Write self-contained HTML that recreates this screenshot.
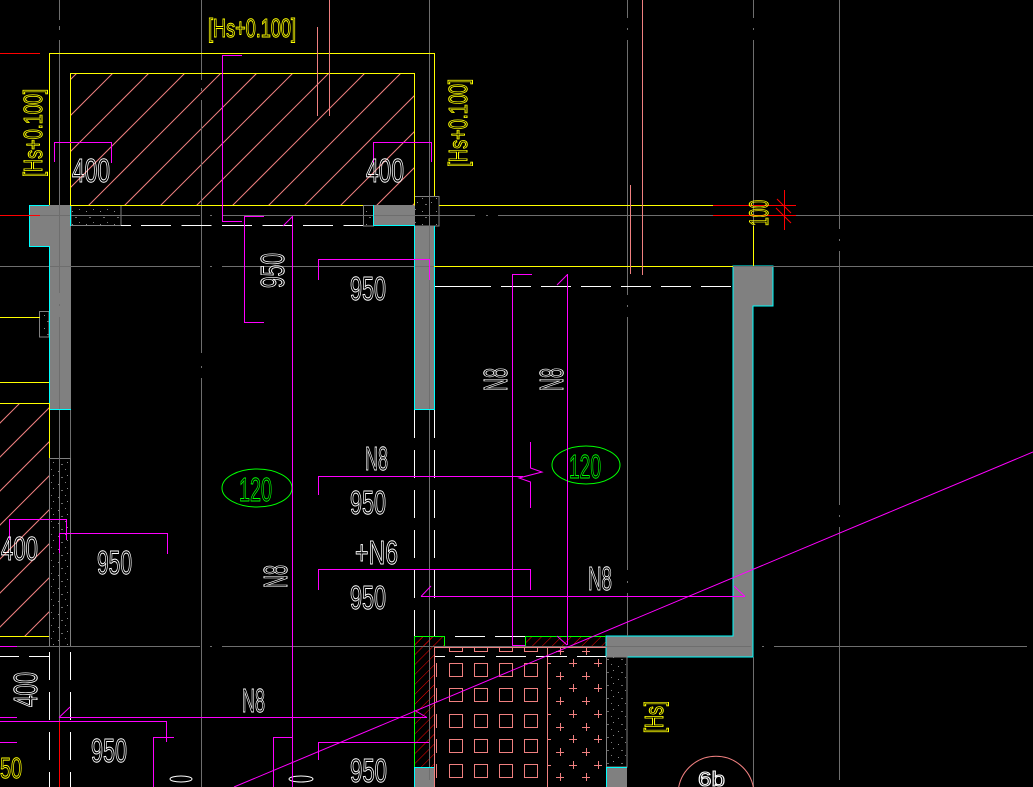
<!DOCTYPE html>
<html>
<head>
<meta charset="utf-8">
<style>
html,body{margin:0;padding:0;background:#000;overflow:hidden;width:1033px;height:787px;}
#wrap{width:1033px;height:787px;overflow:hidden;position:relative;}
svg{display:block;}
text{font-family:'Liberation Sans',sans-serif;font-weight:normal;}
.tw{fill:none;stroke:#ffffff;stroke-width:1;}
.ty{fill:none;stroke:#ffff00;stroke-width:1;}
.tg{fill:none;stroke:#00ff00;stroke-width:1;}
</style>
</head>
<body>
<div id="wrap">
<svg width="1033" height="787" viewBox="0 0 1033 787" xmlns="http://www.w3.org/2000/svg">
<defs>
<pattern id="spk" width="14" height="13" patternUnits="userSpaceOnUse">
<rect x="2" y="3" width="1" height="1" fill="#8a8a8a"/>
<rect x="9" y="1" width="1" height="1" fill="#7a7a7a"/>
<rect x="11" y="7" width="1" height="1" fill="#8a8a8a"/>
<rect x="5" y="9" width="2" height="1" fill="#6a6a6a"/>
</pattern>
<pattern id="rh" width="7" height="7" patternUnits="userSpaceOnUse" patternTransform="rotate(45)">
<line x1="0" y1="0" x2="0" y2="7" stroke="#ff0000" stroke-width="1"/>
</pattern>
<clipPath id="c1"><rect x="70.5" y="73.5" width="344" height="132"/></clipPath>
<clipPath id="c2"><rect x="0" y="403.5" width="49" height="233"/></clipPath>
</defs>

<rect x="0" y="0" width="1033" height="787" fill="#000"/>

<!-- hatch upper -->
<g clip-path="url(#c1)" stroke="#f08080" stroke-width="1">
<line x1="-56" y1="206" x2="77" y2="73"/>
<line x1="-20" y1="206" x2="113" y2="73"/>
<line x1="16" y1="206" x2="149" y2="73"/>
<line x1="52" y1="206" x2="185" y2="73"/>
<line x1="88" y1="206" x2="221" y2="73"/>
<line x1="124" y1="206" x2="257" y2="73"/>
<line x1="160" y1="206" x2="293" y2="73"/>
<line x1="196" y1="206" x2="329" y2="73"/>
<line x1="232" y1="206" x2="365" y2="73"/>
<line x1="268" y1="206" x2="401" y2="73"/>
<line x1="304" y1="206" x2="437" y2="73"/>
<line x1="340" y1="206" x2="473" y2="73"/>
<line x1="376" y1="206" x2="509" y2="73"/>
<line x1="412" y1="206" x2="545" y2="73"/>
</g>
<!-- hatch left -->
<g clip-path="url(#c2)" stroke="#f08080" stroke-width="1">
<line x1="-214" y1="637" x2="20" y2="403"/>
<line x1="-180" y1="637" x2="54" y2="403"/>
<line x1="-146" y1="637" x2="88" y2="403"/>
<line x1="-112" y1="637" x2="122" y2="403"/>
<line x1="-78" y1="637" x2="156" y2="403"/>
<line x1="-44" y1="637" x2="190" y2="403"/>
<line x1="-10" y1="637" x2="224" y2="403"/>
<line x1="24" y1="637" x2="258" y2="403"/>
<line x1="58" y1="637" x2="292" y2="403"/>
</g>

<!-- red hatch -->
<rect x="415" y="637" width="19" height="130" fill="url(#rh)"/>
<rect x="415" y="637" width="29" height="9" fill="url(#rh)"/>
<rect x="526" y="637" width="80" height="9" fill="url(#rh)"/>

<!-- walls -->
<path d="M29,205H71V409H49V246H29Z" fill="#808080"/>
<path d="M373,205H414V226H373Z" fill="#808080"/>
<path d="M414,226H434V409H414Z" fill="#808080"/>
<path d="M733,266H773V306H753V657H606V636H733Z" fill="#808080" stroke="#00ffff" stroke-width="1"/>
<rect x="414" y="767" width="20" height="20" fill="#808080"/>
<rect x="606" y="767" width="21" height="20" fill="#808080"/>

<!-- speckle blocks -->
<g fill="url(#spk)" stroke="#808080" stroke-width="1">
<rect x="71" y="205.5" width="50" height="20"/>
<rect x="363.5" y="205.5" width="10" height="20.5"/>
<rect x="414.5" y="196.5" width="24.5" height="29.5"/>
<rect x="39.5" y="311.5" width="9.5" height="25.5"/>
<rect x="49.5" y="458.5" width="21" height="188"/>
<rect x="606.5" y="657" width="20.5" height="110"/>
</g>

<!-- axis lines -->
<path fill="none" stroke="#6e6e6e" stroke-width="1" d="
M0,215.5H200 M210,215.5H212 M222,215.5H475 M486,215.5H488 M498,215.5H1033
M0,266.5H200 M210,266.5H212 M222,266.5H1033
M0,646.5H200 M210,646.5H212 M222,646.5H751 M762,646.5H764 M774,646.5H1027
M59.5,0V20 M59.5,26V30 M59.5,40V293 M59.5,304V306 M59.5,317V787
M201.5,0V80 M201.5,88V91 M201.5,100V353 M201.5,366V368 M201.5,378V787
M429.5,0V780
M627.5,0V18 M627.5,28V30 M627.5,40V295 M627.5,305V307 M627.5,317V570 M627.5,581V583 M627.5,593V636
M753.5,0V18 M753.5,28V30 M753.5,40V226 M753.5,657V787
M839.5,0V229 M839.5,239V241 M839.5,251V505 M839.5,515V517 M839.5,527V780
M70.5,409V458
"/>

<!-- cyan outlines -->
<path fill="none" stroke="#00ffff" stroke-width="1" d="
M29,205.5H49 M29.5,205V246.5H49.5V409.5H71 M70.5,205V226
M373.5,205V225.5H414.5V409.5H434.5V226
M414.5,787V767.5H434 M606.5,787V767.5H627
"/>

<!-- yellow lines -->
<path fill="none" stroke="#ffff00" stroke-width="1" d="
M49.5,205V53.5H434.5V196
M70.5,205.5V73.5H414.5V205.5
M70,205.5H363 M439,205.5H713
M434,266.5H733
M753.5,226V266
M0,317.5H40 M0,382.5H49 M0,403.5H49.5V458 M0,636.5H49
"/>

<!-- red lines -->
<path fill="none" stroke="#ff0000" stroke-width="1" d="
M0,53.5H40 M0,215.5H40 M713,205.5H796 M713,215.5H796 M784.5,190V230 M777,199L791,213 M776,208L791,223 M59.5,721V787
"/>

<!-- salmon lines -->
<path fill="none" stroke="#f08080" stroke-width="1" d="
M317.5,27V116 M329.5,0V116 M630.5,185V274 M642.5,0V275
M434.5,647V787 M434,647.5H606 M547.5,647V787
"/>
<!-- salmon squares -->
<g fill="none" stroke="#f08080" stroke-width="1">
<rect x="449.5" y="663.5" width="13" height="13"/><rect x="474.5" y="663.5" width="13" height="13"/><rect x="499.5" y="663.5" width="13" height="13"/><rect x="524.5" y="663.5" width="13" height="13"/>
<rect x="449.5" y="688.5" width="13" height="13"/><rect x="474.5" y="688.5" width="13" height="13"/><rect x="499.5" y="688.5" width="13" height="13"/><rect x="524.5" y="688.5" width="13" height="13"/>
<rect x="449.5" y="714.5" width="13" height="13"/><rect x="474.5" y="714.5" width="13" height="13"/><rect x="499.5" y="714.5" width="13" height="13"/><rect x="524.5" y="714.5" width="13" height="13"/>
<rect x="449.5" y="739.5" width="13" height="13"/><rect x="474.5" y="739.5" width="13" height="13"/><rect x="499.5" y="739.5" width="13" height="13"/><rect x="524.5" y="739.5" width="13" height="13"/>
<rect x="449.5" y="764.5" width="13" height="13"/><rect x="474.5" y="764.5" width="13" height="13"/><rect x="499.5" y="764.5" width="13" height="13"/><rect x="524.5" y="764.5" width="13" height="13"/>
<rect x="449.5" y="647.5" width="13" height="4"/><rect x="474.5" y="647.5" width="13" height="4"/><rect x="499.5" y="647.5" width="13" height="4"/><rect x="524.5" y="647.5" width="13" height="4"/>
<path d="M436.5,663V677 M436.5,688V702 M436.5,714V728 M436.5,739V753 M436.5,764V778"/>
<path d="
M556,651.5H564 M560.5,647V655 M582,651.5H590 M586.5,647V655
M556,676.5H564 M560.5,672V680 M582,676.5H590 M586.5,672V680
M556,701.5H564 M560.5,697V705 M582,701.5H590 M586.5,697V705
M556,727.5H564 M560.5,723V731 M582,727.5H590 M586.5,723V731
M556,752.5H564 M560.5,748V756 M582,752.5H590 M586.5,748V756
M556,777.5H564 M560.5,773V781 M582,777.5H590 M586.5,773V781
M569,663.5H577 M573.5,659V667 M594,663.5H602 M598.5,659V667
M569,688.5H577 M573.5,684V692 M594,688.5H602 M598.5,684V692
M569,714.5H577 M573.5,710V718 M594,714.5H602 M598.5,710V718
M569,739.5H577 M573.5,735V743 M594,739.5H602 M598.5,735V743
M569,765.5H577 M573.5,761V769 M594,765.5H602 M598.5,761V769
M548,663.5H551 M548,688.5H551 M548,714.5H551 M548,739.5H551 M548,765.5H551
"/>
<path d="M678.7,787 A38,38 0 0 1 753.3,787"/>
</g>

<!-- green outlines -->
<path fill="none" stroke="#00ff00" stroke-width="1" d="M414.5,767V636.5H444.5V646 M525.5,646V636.5H606"/>
<ellipse cx="257" cy="488" rx="35" ry="19" fill="none" stroke="#00ff00" stroke-width="1"/>
<ellipse cx="586" cy="465" rx="34" ry="19" fill="none" stroke="#00ff00" stroke-width="1"/>

<!-- white dashed lines -->
<g fill="none" stroke="#ffffff" stroke-width="1">
<path d="M121,225.5H131"/>
<path d="M141,225.5H363" stroke-dasharray="30 10.5"/>
<path d="M435,286.5H491"/>
<path d="M501,286.5H733" stroke-dasharray="30 10"/>
<path d="M414.5,410V636 M434.5,410V636" stroke-dasharray="28 12"/>
<path d="M49.5,652V787 M70.5,652V787" stroke-dasharray="28 12"/>
<path d="M0,656.5H19 M29,656.5H49.5"/>
<path d="M455,636.5H485 M495,636.5H525"/>
<path d="M435,656.5H445 M455,656.5H485 M496,656.5H526 M536,656.5H567 M577,656.5H606"/>
<ellipse cx="181" cy="779" rx="11" ry="3"/>
<ellipse cx="301" cy="779" rx="12" ry="3"/>
</g>

<!-- magenta lines -->
<path fill="none" stroke="#ff00ff" stroke-width="1" d="
M242,55.5H222.5V221.5H242
M54.5,162V142.5H111.5V163
M373.5,163V142.5H431.5V162
M264,216.5H244.5V322.5H264
M292.5,216V787
M283,226L292.5,216.5
M318.5,280V259.5H429.5V280
M532,274.5H512.5V645.5H525
M567.5,274V645
M557,285L567.5,274.5
M557,636L567,645
M318.5,495V476.5H523
M530.5,442V468L542,472L519,478L530.5,482V508
M318.5,590V569.5H530.5V590
M421,596.5H745 M421,596.5L431,586 M745,596.5L734,586
M0,646.5H17 M0,717.5H17 M59,717.5H427 M59,717.5L70,707 M414,710L427,717.5
M0,721.5H166.5V742 M153.5,787V737.5H174
M0,742.5H17
M273.5,787V737.5H293
M318.5,760V742.5H429
M9.5,540V519.5H66.5V540
M59.5,553V533.5H167.5V554
"/>
<line x1="234" y1="787" x2="1033" y2="452" stroke="#ff00ff" stroke-width="1"/>

<!-- yellow text -->
<text class="ty" x="208" y="37" font-size="26" textLength="88" lengthAdjust="spacingAndGlyphs">[Hs+0.100]</text>
<text class="ty" transform="translate(42,177) rotate(-90)" x="0" y="0" font-size="26" textLength="88" lengthAdjust="spacingAndGlyphs">[Hs+0.100]</text>
<text class="ty" transform="translate(467,167) rotate(-90)" x="0" y="0" font-size="26" textLength="88" lengthAdjust="spacingAndGlyphs">[Hs+0.100]</text>
<text class="ty" transform="translate(768,226) rotate(-90)" x="0" y="0" font-size="27" textLength="26" lengthAdjust="spacingAndGlyphs">100</text>
<text class="ty" transform="translate(663,733) rotate(-90)" x="0" y="0" font-size="26" textLength="32" lengthAdjust="spacingAndGlyphs">[Hs]</text>
<text class="ty" x="0" y="778" font-size="29" textLength="22" lengthAdjust="spacingAndGlyphs">50</text>

<!-- green text -->
<text class="tg" x="239" y="501" font-size="33" textLength="33" lengthAdjust="spacingAndGlyphs">120</text>
<text class="tg" x="569" y="478" font-size="33" textLength="32" lengthAdjust="spacingAndGlyphs">120</text>

<!-- white text -->
<text class="tw" x="72" y="182" font-size="33" textLength="38" lengthAdjust="spacingAndGlyphs">400</text>
<text class="tw" x="366" y="182" font-size="33" textLength="38" lengthAdjust="spacingAndGlyphs">400</text>
<text class="tw" transform="translate(284,288) rotate(-90)" x="0" y="0" font-size="33" textLength="35" lengthAdjust="spacingAndGlyphs">950</text>
<text class="tw" x="350" y="300" font-size="33" textLength="36" lengthAdjust="spacingAndGlyphs">950</text>
<text class="tw" transform="translate(507,391) rotate(-90)" x="0" y="0" font-size="33" textLength="23" lengthAdjust="spacingAndGlyphs">N8</text>
<text class="tw" transform="translate(563,391) rotate(-90)" x="0" y="0" font-size="33" textLength="23" lengthAdjust="spacingAndGlyphs">N8</text>
<text class="tw" x="365" y="470" font-size="33" textLength="23" lengthAdjust="spacingAndGlyphs">N8</text>
<text class="tw" x="350" y="514" font-size="33" textLength="36" lengthAdjust="spacingAndGlyphs">950</text>
<text class="tw" x="355" y="564" font-size="33" textLength="43" lengthAdjust="spacingAndGlyphs">+N6</text>
<text class="tw" x="350" y="609" font-size="33" textLength="36" lengthAdjust="spacingAndGlyphs">950</text>
<text class="tw" x="97" y="574" font-size="33" textLength="35" lengthAdjust="spacingAndGlyphs">950</text>
<text class="tw" x="1" y="560" font-size="33" textLength="37" lengthAdjust="spacingAndGlyphs">400</text>
<text class="tw" transform="translate(287,588) rotate(-90)" x="0" y="0" font-size="33" textLength="23" lengthAdjust="spacingAndGlyphs">N8</text>
<text class="tw" x="588" y="590" font-size="33" textLength="24" lengthAdjust="spacingAndGlyphs">N8</text>
<text class="tw" x="242" y="712" font-size="33" textLength="23" lengthAdjust="spacingAndGlyphs">N8</text>
<text class="tw" x="91" y="762" font-size="33" textLength="36" lengthAdjust="spacingAndGlyphs">950</text>
<text class="tw" x="350" y="782" font-size="33" textLength="37" lengthAdjust="spacingAndGlyphs">950</text>
<text class="tw" transform="translate(37,707) rotate(-90)" x="0" y="0" font-size="33" textLength="35" lengthAdjust="spacingAndGlyphs">400</text>
<text class="tw" x="698" y="786" font-size="20" textLength="27" lengthAdjust="spacingAndGlyphs">6b</text>
</svg>
</div>
</body>
</html>
